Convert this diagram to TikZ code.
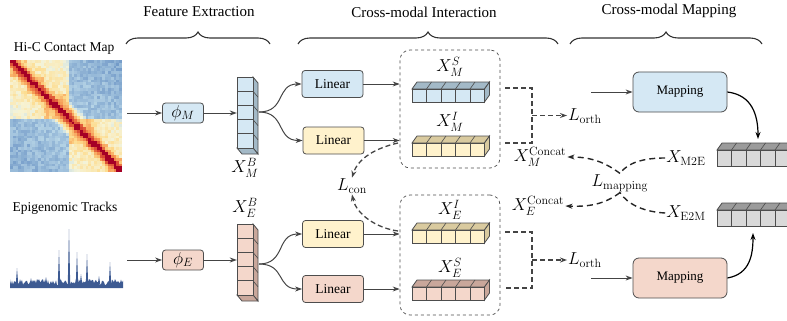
\documentclass[tikz,border=0pt]{standalone}
\usepackage[no-math]{fontspec}
\setmainfont{Liberation Serif}
\usepackage{amsmath,amssymb}
\usepackage{tikz}
\usetikzlibrary{arrows.meta,decorations.pathreplacing}

\definecolor{edge}{HTML}{4D4D4D}
\definecolor{arrgray}{HTML}{444444}
\definecolor{boxblue}{HTML}{D5E8F4}
\definecolor{boxyellow}{HTML}{FFF2CC}
\definecolor{boxpink}{HTML}{F4D7CB}
\definecolor{boxgray}{HTML}{D9D9D9}
\definecolor{topblue}{HTML}{A3B9C7}
\definecolor{topyellow}{HTML}{D9CA9F}
\definecolor{toppink}{HTML}{C9A79B}
\definecolor{topgray}{HTML}{9B9B9B}
\definecolor{trackblue}{HTML}{3D5A92}
% heat map palette
\definecolor{hmdr}{HTML}{A50026}
\definecolor{hmr}{HTML}{D33A2E}
\definecolor{hmo}{HTML}{F5934F}
\definecolor{hmy}{HTML}{FDDB8C}
\definecolor{hmp}{HTML}{F6F4D8}
\definecolor{hml}{HTML}{BCD9E9}
\definecolor{hmb}{HTML}{5B86BD}

% horizontal feature bar: x, y (front top), front fill, top fill, height
\newcommand{\featrow}[5]{%
  \filldraw[fill=#4, draw=edge, line width=0.8pt] (#1,#2) -- ++(5,-7) -- ++(72.5,0) -- ++(-5,7) -- cycle;
  \foreach \k in {1,...,4} \draw[edge, line width=0.6pt] ({#1+14.5*\k},#2) -- ++(5,-7);
  \filldraw[fill=#4, draw=edge, line width=0.8pt] ({#1+72.5},#2) -- ++(5,-7) -- ++(0,#5) -- ++(-5,7) -- cycle;
  \foreach \k in {0,...,4} \filldraw[fill=#3, draw=edge, line width=0.8pt] ({#1+14.5*\k},#2) rectangle ++(14.5,#5);
}
% vertical feature column: x, y (front top), front fill, side fill
\newcommand{\featcol}[4]{%
  \filldraw[fill=#4, draw=edge, line width=0.8pt] ({#1+16},#2) -- ++(5,6) -- ++(0,71) -- ++(-5,-6) -- cycle;
  \filldraw[fill=#4, draw=edge, line width=0.8pt] (#1,{#2+71}) -- ++(16,0) -- ++(5,6) -- ++(-16,0) -- cycle;
  \foreach \k in {1,...,4} \draw[edge, line width=0.6pt] ({#1+16},{#2+14.2*\k}) -- ++(5,6);
  \foreach \k in {0,...,4} \filldraw[fill=#3, draw=edge, line width=0.8pt] (#1,{#2+14.2*\k}) rectangle ++(16,14.2);
}

\begin{document}
\begin{tikzpicture}
		[
			x=1pt, y=-1pt,
			txt/.style = {font=\fontsize{13.5}{16}\selectfont, inner sep=1pt},
			head/.style = {font=\fontsize{15}{18}\selectfont, inner sep=1pt},
			mth/.style = {font=\fontsize{18}{21}\selectfont, inner sep=1pt},
			phibox/.style = {draw=edge, line width=0.8pt, rounded corners=3pt, minimum width=41pt, minimum height=20pt, inner sep=0pt, font=\fontsize{18}{21}\selectfont},
			linbox/.style = {draw=edge, line width=0.8pt, rounded corners=3pt, minimum width=61pt, minimum height=27pt, inner sep=0pt, font=\fontsize{13.5}{16}\selectfont},
			mapbox/.style = {draw=edge, line width=0.8pt, rounded corners=6pt, minimum width=94pt, minimum height=40pt, inner sep=0pt, font=\fontsize{13}{16}\selectfont},
			groupbox/.style = {draw=edge, dashed, line width=0.7pt, rounded corners=10pt, minimum width=100pt, inner sep=0pt},
			brc/.style = {decorate, decoration={brace, amplitude=12pt}, line width=1.1pt, draw=black!80},
			arr/.style = {-{Stealth[length=7pt, width=5pt]}, line width=1pt, draw=arrgray},
			barr/.style = {-{Stealth[length=7pt, width=5pt]}, line width=1.2pt, draw=black},
			brk/.style = {dash pattern=on 5pt off 3pt, line width=1.3pt, draw=arrgray},
			lossarr/.style = {-{Stealth[length=7pt, width=5pt]}, dash pattern=on 5pt off 3pt, line width=1.3pt, draw=arrgray},
			mapdash/.style = {dash pattern=on 6pt off 4pt, line width=1.4pt, draw=black!85},
		]
		\clip (0,0) rectangle (787,321);
		\useasboundingbox (0,0) rectangle (787,321);

		% stage headings and braces
		\node[head] (hfeat) at (199,12) {Feature Extraction};
		\node[head] (hinter) at (424,12) {Cross-modal Interaction};
		\node[head] (hmap) at (669,11) {Cross-modal Mapping};
		\draw[brc] (126,44) -- (270,44);
		\draw[brc] (298,44) -- (558,44);
		\draw[brc] (570,44) -- (762,44);

		% inputs
		\node[txt] (thic) at (64,48) {Hi-C Contact Map};
		\node[txt] (tepi) at (65,208) {Epigenomic Tracks};

		% Hi-C contact map
		\pgfmathsetseed{11}
		\foreach \i in {0,...,39}{
			\foreach \j in {0,...,39}{
				\pgfmathtruncatemacro\dd{abs(\i-\j)}
				\pgfmathtruncatemacro\bi{(\i>5)+(\i>11)+(\i>20)+(\i>29)+(\i>34)}
				\pgfmathtruncatemacro\bj{(\j>5)+(\j>11)+(\j>20)+(\j>29)+(\j>34)}
				\pgfmathtruncatemacro\si{(\i>20)}
				\pgfmathtruncatemacro\sj{(\j>20)}
				\pgfmathtruncatemacro\hv{max(100-12*\dd, (\bi==\bj)*(64-1.2*\dd), (\si==\sj)*(50-0.7*\dd), 20-0.3*\dd) + 14*rnd}
				\ifnum\hv>93 \def\hc{hmdr}%
				\else\ifnum\hv>76 \pgfmathtruncatemacro\pp{(\hv-76)*100/18}\edef\hc{hmr!\pp!hmo}%
				\else\ifnum\hv>59 \pgfmathtruncatemacro\pp{(\hv-59)*100/18}\edef\hc{hmo!\pp!hmy}%
				\else\ifnum\hv>44 \pgfmathtruncatemacro\pp{(\hv-44)*100/16}\edef\hc{hmy!\pp!hmp}%
				\else\ifnum\hv>30 \pgfmathtruncatemacro\pp{(\hv-30)*100/15}\edef\hc{hmp!\pp!hml}%
				\else \pgfmathtruncatemacro\pp{max(0,\hv)*100/31}\edef\hc{hml!\pp!hmb}%
				\fi\fi\fi\fi\fi
				\fill[\hc] ({10+2.8*\j},{60+2.8*\i}) rectangle ++(2.9,2.9);
			}
		}
		\node[inner sep=0pt, minimum size=112pt] (hicmap) at (66,116) {};

		% epigenomic track
		\pgfmathsetseed{5}
		\fill[trackblue] (10,288) \foreach \x in {10,...,123}{ -- (\x,{288-3-6*rnd}) } -- (123,288) -- cycle;
		\foreach \px/\py in {17/268, 31/278, 46/277, 59/250, 69/229, 77/252, 81/274, 87/254, 99/276, 110/262}
		\fill[trackblue] (\px-1.2,284) -- (\px,\py) -- (\px+1.2,284) -- cycle;
		\node[inner sep=0pt, minimum width=113pt, minimum height=60pt] (epitrack) at (66.5,258) {};

		% feature extraction
		\node[phibox, fill=boxblue] (phim) at (183,113) {$\phi_M$};
		\node[phibox, fill=boxpink] (phie) at (183,260) {$\phi_E$};
		\draw[arr, shorten <=5pt] (hicmap.east |- phim) -- (phim);
		\draw[arr, shorten <=4pt] (epitrack.east |- phie) -- (phie);

		\featcol{237}{77}{boxblue}{topblue}
		\featcol{237}{224}{boxpink}{toppink}
		\node[inner sep=0pt, minimum width=21pt, minimum height=77pt] (colm) at (247.5,115.5) {};
		\node[inner sep=0pt, minimum width=21pt, minimum height=77pt] (cole) at (247.5,262.5) {};
		\node[mth] (xmb) at (245,168) {$X_M^B$};
		\node[mth] (xeb) at (245,208) {$X_E^B$};
		\draw[arr] (phim) -- (phim -| colm.west);
		\draw[arr] (phie) -- (phie -| cole.west);

		% cross-modal interaction
		\node[linbox, fill=boxblue] (linms) at (332.5,84) {Linear};
		\node[linbox, fill=boxyellow] (linmi) at (333.5,140.5) {Linear};
		\node[linbox, fill=boxyellow] (linei) at (333,234) {Linear};
		\node[linbox, fill=boxpink] (lines) at (333,289) {Linear};

		\coordinate (splitm) at (259,112);
		\coordinate (splite) at (259,264);
		\draw[arr] (splitm) .. controls (286,112) and (276,84) .. (linms.west);
		\draw[arr] (splitm) .. controls (286,112) and (276,140.5) .. (linmi.west);
		\draw[arr] (splite) .. controls (286,264) and (276,234) .. (linei.west);
		\draw[arr] (splite) .. controls (286,264) and (276,289) .. (lines.west);

		\node[groupbox, minimum height=118pt] (boxm) at (450,109) {};
		\node[groupbox, minimum height=120pt] (boxe) at (450,255) {};
		\draw[arr] (linms) -- (linms -| boxm.west);
		\draw[arr] (linmi) -- (linmi -| boxm.west);
		\draw[arr] (linei) -- (linei -| boxe.west);
		\draw[arr] (lines) -- (lines -| boxe.west);

		\node[mth] (xms) at (450,67) {$X_M^S$};
		\node[mth] (xmi) at (450,122) {$X_M^I$};
		\node[mth] (xei) at (450,210) {$X_E^I$};
		\node[mth] (xes) at (450,268) {$X_E^S$};
		\featrow{412}{89}{boxblue}{topblue}{13}
		\featrow{412}{143}{boxyellow}{topyellow}{13}
		\featrow{412}{230}{boxyellow}{topyellow}{13}
		\featrow{412}{287}{boxpink}{toppink}{13}

		% orthogonality losses
		\node[mth] (lorthm) at (585,116) {$L_{\mathrm{orth}}$};
		\node[mth] (lorthe) at (585,260) {$L_{\mathrm{orth}}$};
		\coordinate (bkm) at (532,115.5);
		\coordinate (bke) at (532,260);
		\draw[brk] (505,88) -- (532,88) -- (532,143) -- (505,143);
		\draw[brk] (505,232) -- (532,232) -- (532,288) -- (505,288);
		\draw[lossarr] (bkm) -- (bkm -| lorthm.west);
		\draw[lossarr] (bke) -- (bke -| lorthe.west);

		% contrastive loss
		\node[mth] (lcon) at (352,186) {$L_{\mathrm{con}}$};
		\coordinate (conm) at (398,143);
		\coordinate (cone) at (398,231);
		\draw[lossarr] (conm) .. controls (376,148) and (358,158) .. (lcon.north);
		\draw[lossarr] (cone) .. controls (376,228) and (356,214) .. (lcon.south);

		% cross-modal mapping
		\node[mapbox, fill=boxblue] (mapm) at (680,92) {Mapping};
		\node[mapbox, fill=boxpink] (mape) at (680,278) {Mapping};
		\coordinate (inm) at (591,92);
		\coordinate (ine) at (591,278);
		\draw[arr] (inm) -- (mapm);
		\draw[arr] (ine) -- (mape);

		\featrow{717}{150}{boxgray}{topgray}{16}
		\featrow{717}{210}{boxgray}{topgray}{16}
		\coordinate (m2etop) at (758,139);
		\coordinate (e2mbot) at (753,233);
		\draw[barr] (mapm.east) .. controls (752,95) and (758,115) .. (m2etop);
		\draw[barr] (mape.east) .. controls (750,274) and (753,255) .. (e2mbot);

		% mapping loss
		\node[mth] (xme) at (686,158) {$X_{\mathrm{M2E}}$};
		\node[mth] (xem) at (686,213) {$X_{\mathrm{E2M}}$};
		\node[mth] (xmc) at (540,157) {$X_M^{\mathrm{Concat}}$};
		\node[mth] (xec) at (538,206) {$X_E^{\mathrm{Concat}}$};
		\node[mth] (lmap) at (620,183) {$L_{\mathrm{mapping}}$};
		\draw[mapdash] (xme.west) .. controls (645,158) and (628,162) .. (lmap.north);
		\draw[mapdash, -{Stealth[length=7pt, width=5pt]}] (lmap.north) .. controls (606,163) and (592,157) .. (xmc.east);
		\draw[mapdash] (xem.west) .. controls (645,212) and (628,205) .. (lmap.south);
		\draw[mapdash, -{Stealth[length=7pt, width=5pt]}] (lmap.south) .. controls (606,203) and (592,207) .. (xec.east);

		\end{tikzpicture}
\end{document}
